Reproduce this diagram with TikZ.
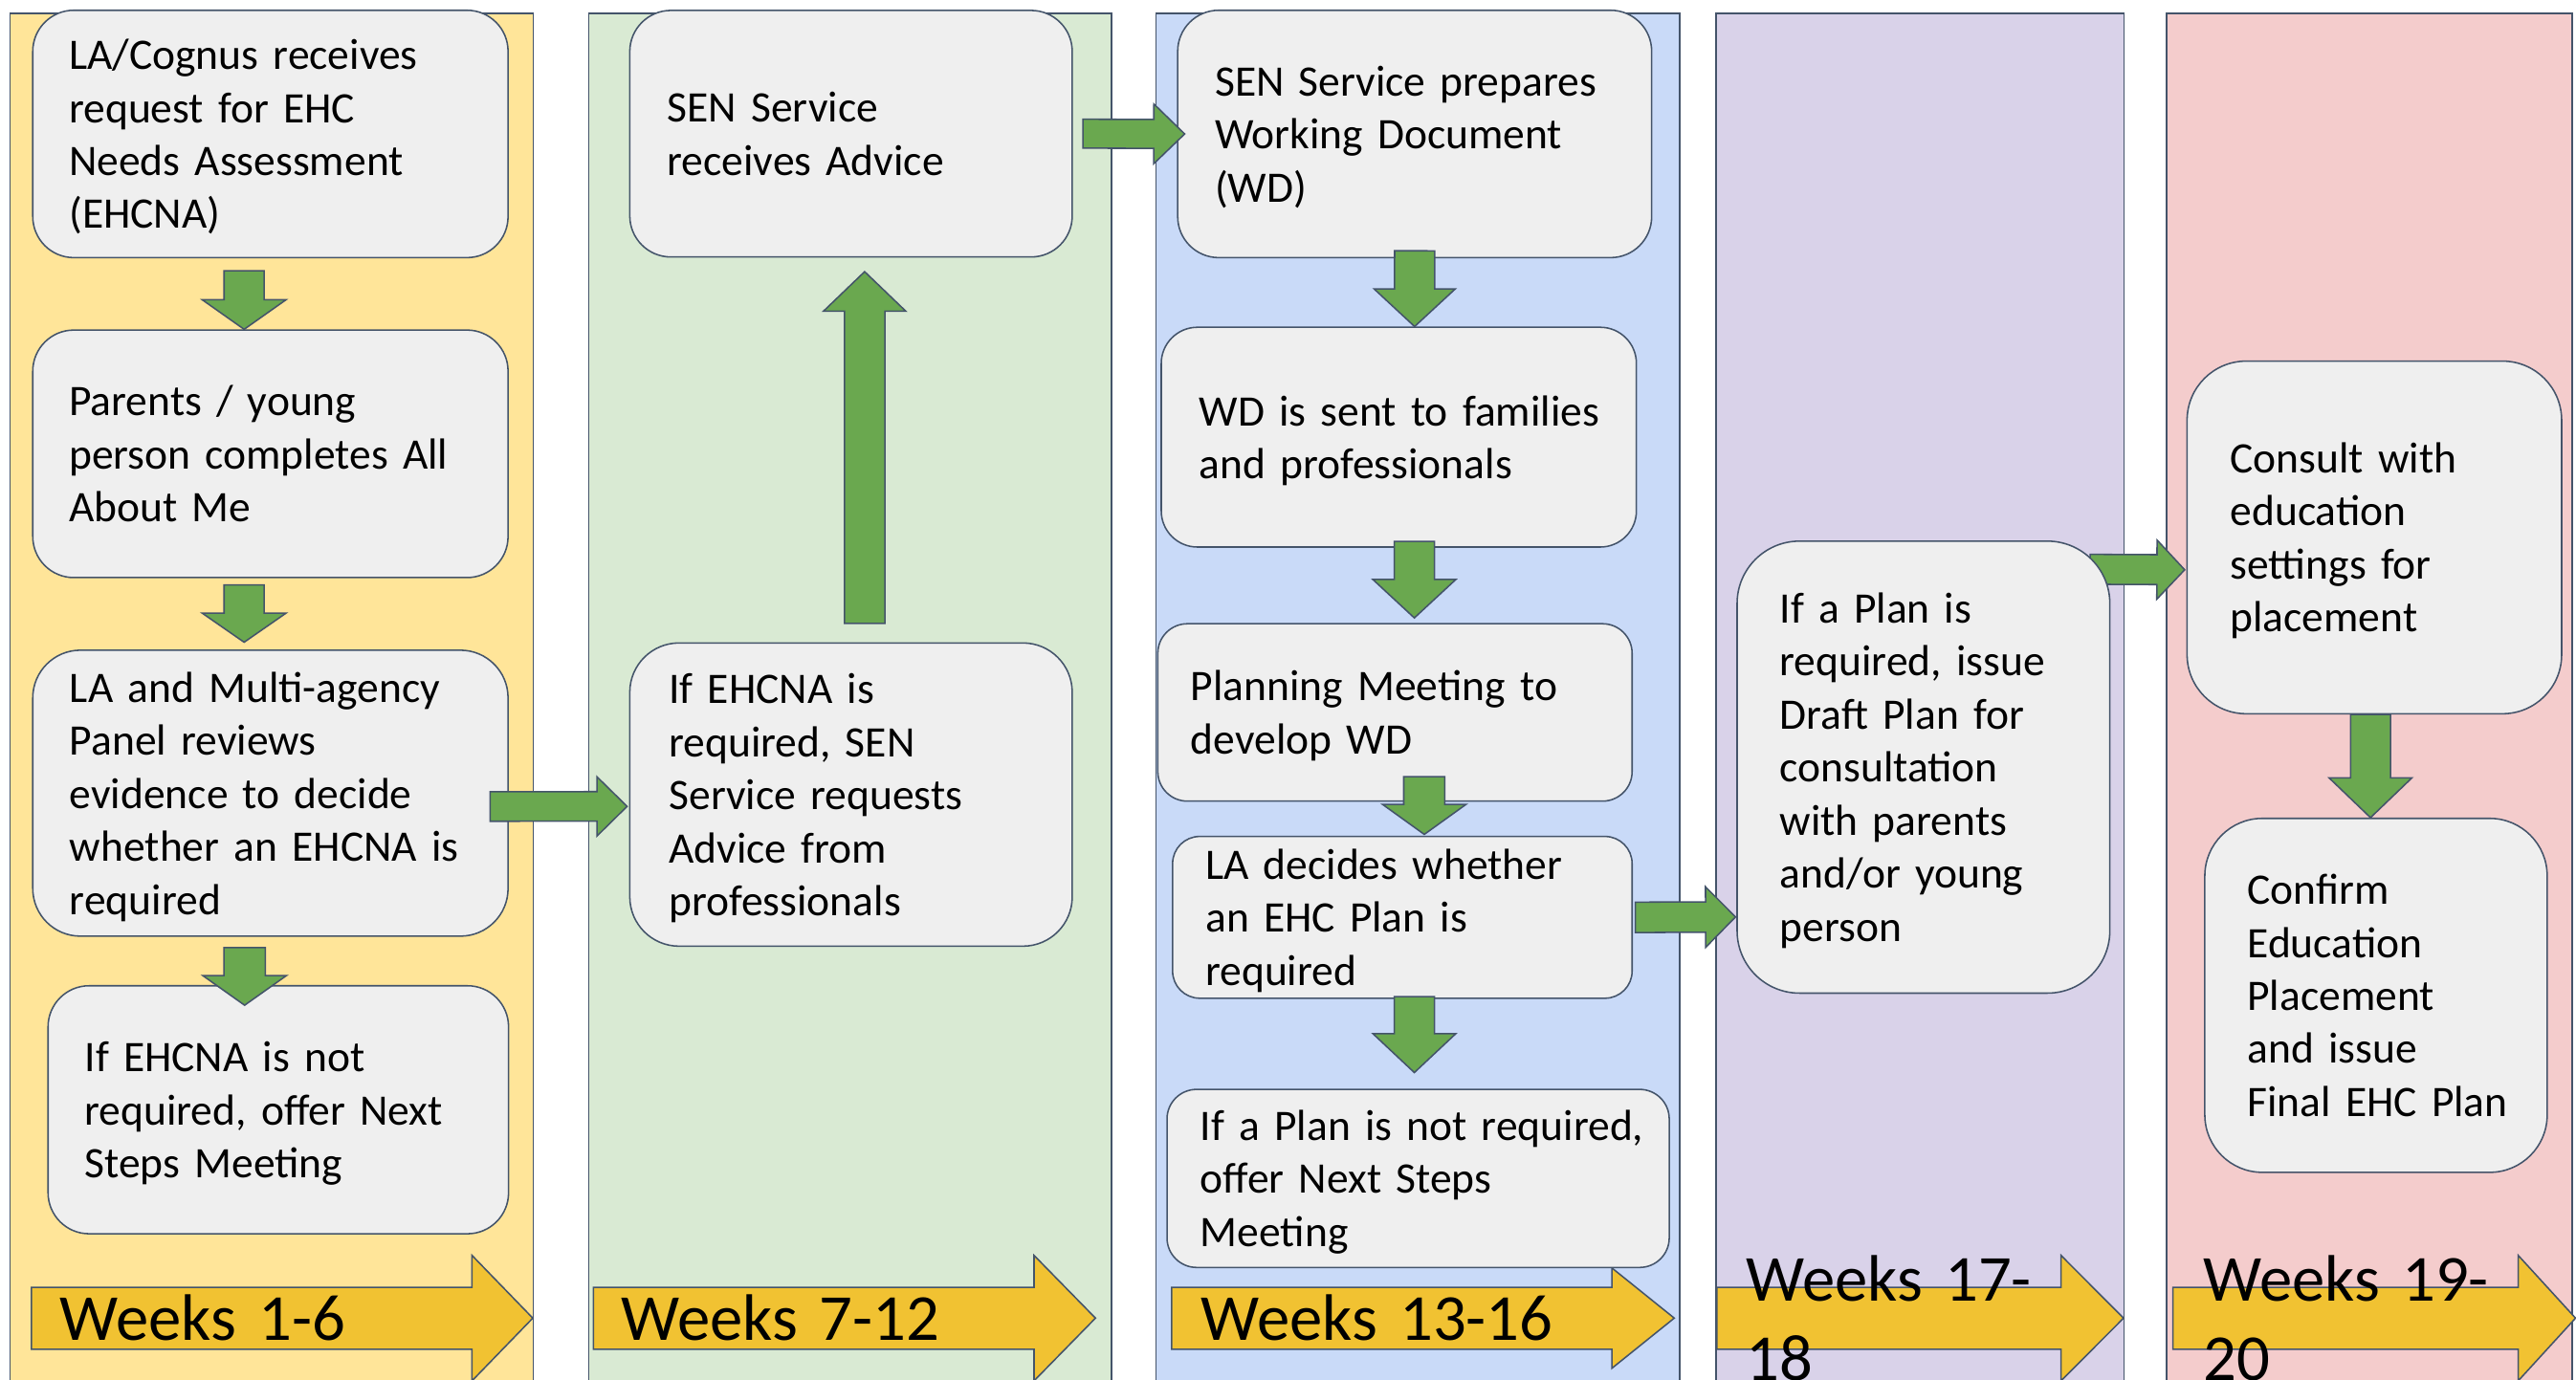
\documentclass[tikz,border=0pt]{standalone}
\usepackage{fontspec}
\setmainfont{Carlito}
\usetikzlibrary{calc}

\definecolor{edge}{HTML}{44546A}
\definecolor{boxgray}{HTML}{EFEFEF}
\definecolor{arrowgreen}{HTML}{6AA84F}
\definecolor{weekgold}{HTML}{F1C232}
\definecolor{laneyellow}{HTML}{FFE599}
\definecolor{lanegreen}{HTML}{D9EAD3}
\definecolor{laneblue}{HTML}{C9DAF8}
\definecolor{lanepurple}{HTML}{D9D2E9}
\definecolor{lanepink}{HTML}{F4CCCC}

\newcommand{\boxstrut}{\rule[-7pt]{0pt}{32.3pt}}
\newcommand{\weekstrut}{\rule[-10.6pt]{0pt}{48.8pt}}

\pgfdeclarelayer{lanes}
\pgfdeclarelayer{under}
\pgfsetlayers{lanes,under,main}

\tikzset{
  lane/.style={draw=edge, line width=0.9pt},
  % stage box: width, height, left text pad
  stage/.style n args={3}{draw=edge, fill=boxgray, line width=0.9pt, anchor=north west,
    align=left, inner sep=0pt, font=\fontsize{26.5pt}{32.3pt}\selectfont,
    minimum width=#1pt, text width=#1pt, minimum height=#2pt,
    execute at begin node={\leftskip=#3pt\relax\boxstrut}, execute at end node=\boxstrut},
  weekarrow/.style={draw=edge, fill=weekgold, line width=0.9pt, line join=miter},
  weeklabel/.style={anchor=west, align=left, inner sep=0pt, text width=240pt,
    font=\fontsize{40pt}{48.8pt}\selectfont,
    execute at begin node=\weekstrut, execute at end node=\weekstrut},
  % block arrow: half shaft, half head, head length
  flow/.style n args={3}{draw=edge, fill=arrowgreen, line width=0.9pt, line join=miter,
    to path={
      let \p1=(\tikztostart), \p2=(\tikztotarget),
          \n1={atan2(\y2-\y1,\x2-\x1)}, \n2={veclen(\x2-\x1,\y2-\y1)}
      in {[shift={(\p1)}, rotate=\n1]
        (0,-#1) -- (\n2-#3,-#1) -- (\n2-#3,-#2) -- (\n2,0)
        -- (\n2-#3,#2) -- (\n2-#3,#1) -- (0,#1) -- cycle}
    }}
}

\begin{document}
\begin{tikzpicture}[x=1pt, y=-1pt]
    \useasboundingbox (0,0) rectangle (1568,840);

    \begin{pgfonlayer}{lanes}
    % Draw the week columns
    \draw[lane, fill=laneyellow] (6.2,8.2) rectangle (324.6,850);
    \draw[lane, fill=lanegreen] (358.5,8.2) rectangle (676.5,850);
    \draw[lane, fill=laneblue] (703.6,8.2) rectangle (1022.3,850);
    \draw[lane, fill=lanepurple] (1044.6,8.2) rectangle (1292.8,850);
    \draw[lane, fill=lanepink] (1318.7,8.2) rectangle (1565.8,850);

    % Week arrows along the bottom
    \foreach \ws/\wn/\wt/\wb/\wp/\wtxt [count=\i] in {
        19.2/287.3/324.3/38.2/17.2/{Weeks 1-6},
        361.2/629.4/666.8/38.2/16.8/{Weeks 7-12},
        713.2/981.2/1019.1/30.5/17.8/{Weeks 13-16},
        1045/1254.5/1292.6/38.2/17.9/{Weeks 17-\\18},
        1322.6/1532.8/1567.7/38.2/18.6/{Weeks 19-\\20}}
    {
        \draw[weekarrow] (\ws,783.8) -- (\wn,783.8) -- (\wn,802.5-\wb) -- (\wt,802.5)
            -- (\wn,802.5+\wb) -- (\wn,821.5) -- (\ws,821.5) -- cycle;
        \node[weeklabel] (week\i) at (\ws+\wp,802.5) {\wtxt};
    }
    \end{pgfonlayer}

    % Weeks 1-6
    \node[stage={289.3}{150.6}{22.1}, rounded corners=25pt]
        (request) at (19.5,5.8) {LA/Cognus receives\\request for EHC\\Needs Assessment\\(EHCNA)};
    \node[stage={289.3}{150.7}{22.1}, rounded corners=25pt]
        (aboutme) at (19.5,200.5) {Parents / young\\person completes All\\About Me};
    \node[stage={289.3}{174.1}{22.5}, rounded corners=29pt]
        (panel) at (19.5,395.4) {LA and Multi-agency\\Panel reviews\\evidence to decide\\whether an EHCNA is\\required};
    \node[stage={280.3}{151}{22.3}, rounded corners=25pt]
        (nextsteps) at (28.8,599.7) {If EHCNA is not\\required, offer Next\\Steps Meeting};

    % Weeks 7-12
    \node[stage={269.3}{150.1}{22.8}, rounded corners=25pt]
        (advice) at (382.9,5.9) {SEN Service\\receives Advice};
    \node[stage={269.3}{184.6}{23.9}, rounded corners=30pt]
        (requests) at (382.9,391) {If EHCNA is\\required, SEN\\Service requests\\Advice from\\professionals};

    % Weeks 13-16
    \node[stage={288.5}{150.6}{22.7}, rounded corners=25pt]
        (wdprep) at (716.4,5.8) {SEN Service prepares\\Working Document\\(WD)};
    \node[stage={289.2}{133.8}{23.1}, rounded corners=22pt]
        (wdsent) at (706.4,198.8) {WD is sent to families\\and professionals};
    \node[stage={288.7}{108}{20.1}, rounded corners=18pt]
        (planning) at (704.3,379.3) {Planning Meeting to\\develop WD};
    \node[stage={279.7}{98.5}{20}, rounded corners=16.5pt]
        (decide) at (713.3,508.8) {LA decides whether\\an EHC Plan is\\required};
    \node[stage={305.7}{108.4}{20.3}, rounded corners=18pt]
        (noplan) at (709.9,662.8) {If a Plan is not required,\\offer Next Steps\\Meeting};

    % Weeks 17-18
    \node[stage={226.9}{275.2}{26}, rounded corners=38pt]
        (draft) at (1056.9,329) {If a Plan is\\required, issue\\Draft Plan for\\consultation\\with parents\\and/or young\\person};

    % Weeks 19-20
    \node[stage={228}{214.7}{26.3}, rounded corners=36pt]
        (consult) at (1330.8,219.4) {Consult with\\education\\settings for\\placement};
    \node[stage={208.4}{215.5}{25.9}, rounded corners=35pt]
        (confirm) at (1341.6,497.8) {Confirm\\Education\\Placement\\and issue\\Final EHC Plan};

    % Green arrows between the steps
    \draw[flow={12.2}{25.5}{18}] ([xshift=-16pt,yshift=-7.6pt]request.south) to ([xshift=-16pt]aboutme.north);
    \draw[flow={12.2}{25.5}{17.7}] ([xshift=-16pt,yshift=-4pt]aboutme.south) to ([xshift=-16pt,yshift=4.4pt]panel.north);
    \draw[flow={12.6}{25.4}{18}] ([xshift=-15.7pt,yshift=-6.5pt]panel.south) to ([xshift=-20.5pt,yshift=-12.3pt]nextsteps.north);
    \draw[flow={9}{18}{18.3}] ([xshift=-11.4pt,yshift=-8.1pt]panel.east) to ([xshift=-1.2pt,yshift=-7.2pt]requests.west);
    \draw[flow={12.3}{25.1}{24.1}] ([xshift=8.3pt,yshift=11.5pt]requests.north) to ([xshift=8.3pt,yshift=-8.5pt]advice.south);
    \draw[flow={8.8}{18.2}{18.8}] ([xshift=6.1pt]advice.east) to ([xshift=4.7pt]wdprep.west);
    \draw[flow={12.2}{24.7}{22.9}] ([yshift=4.6pt]wdprep.south) to ([xshift=9.6pt]wdsent.north);
    \draw[flow={12.25}{25.25}{23.4}] ([xshift=9.45pt,yshift=3.9pt]wdsent.south) to ([xshift=11.8pt,yshift=3.1pt]planning.north);
    \draw[flow={12.5}{25.45}{18.3}] ([xshift=17.85pt,yshift=15.3pt]planning.south) to ([xshift=13.35pt,yshift=0.8pt]decide.north);
    \draw[flow={12.25}{25.25}{23.7}] ([xshift=7.3pt,yshift=1.4pt]decide.south) to ([xshift=-2.3pt,yshift=9.8pt]noplan.north);
    \draw[flow={9.25}{18.4}{18.2}] ([xshift=1.5pt]decide.east) to ([xshift=-0.5pt,yshift=-91.2pt]draft.west);
    \begin{pgfonlayer}{under}
    \draw[flow={9.1}{18}{16.9}] ([xshift=-12.5pt,yshift=-17.6pt]draft.north east) to ([xshift=-1pt,yshift=-19.7pt]consult.west);
    \end{pgfonlayer}
    \draw[flow={12.15}{25.2}{24.2}] ([xshift=-2.35pt]consult.south) to ([xshift=-3.35pt]confirm.north);

\end{tikzpicture}
\end{document}
